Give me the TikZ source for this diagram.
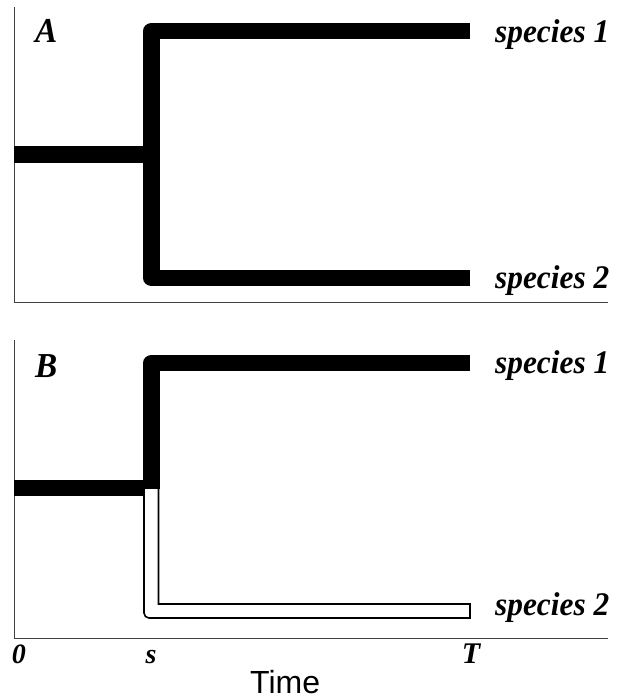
\documentclass[tikz,border=0pt]{standalone}
\usepackage{fontspec}
\usepackage{graphicx}
\setmainfont{Liberation Serif}
\newfontfamily\arialfont{Liberation Sans}
\newcommand{\spc}[1]{\scalebox{0.95}[1]{#1}}
\begin{document}
\begin{tikzpicture}[x=1pt,y=-1pt,
  axis/.style={line width=1pt,draw=black!75},
  branch/.style={line width=16.5pt,line join=round},
  lab/.style={font=\fontsize{33}{33}\selectfont\bfseries\itshape,inner sep=0pt,anchor=base west},
  panlab/.style={font=\fontsize{35}{35}\selectfont\bfseries\itshape,inner sep=0pt,anchor=base west},
  tick/.style={font=\fontsize{28}{28}\selectfont\bfseries\itshape,inner sep=0pt,anchor=base},
  openbr/.style={fill=white,draw=black,line width=1.6pt}]
\useasboundingbox (0,0) rectangle (623,700);
% panel A
\coordinate (a0) at (14,7);
\coordinate (ao) at (14,302);
\coordinate (ae) at (608,302);
\draw[axis] (a0) -- (ao) -- (ae);
\coordinate (ar) at (14,154.5);
\coordinate (as) at (152,154.5);
\coordinate (a1) at (470,31);
\coordinate (a2) at (470,278);
\draw[branch] (ar) -- (as);
\draw[branch] (a1) -- (151.5,31) -- (151.5,278) -- (a2);
\node[panlab] (la) at (35,43) {\spc{A}};
\node[lab] (la1) at (495,43) {\spc{species 1}};
\node[lab] (la2) at (495,288) {\spc{species 2}};
% panel B
\coordinate (b0) at (14,340);
\coordinate (bo) at (14,638);
\coordinate (be) at (608,638);
\draw[axis] (b0) -- (bo) -- (be);
\coordinate (br) at (14,488);
\coordinate (bs) at (152,488);
\coordinate (b1) at (470,363);
\draw[branch] (br) -- (bs);
\draw[branch] (b1) -- (151.5,363) -- (151.5,489);
\draw[openbr] (144,488) -- (144,612) [rounded corners=5pt] -- (144,618) [sharp corners] -- (470,618) -- (470,604) -- (158.5,604) -- (158.5,488) -- cycle;
\node[panlab] (lb) at (35,377) {\spc{B}};
\node[lab] (lb1) at (495,373) {\spc{species 1}};
\node[lab] (lb2) at (495,615) {\spc{species 2}};
% time axis labels
\node[tick] (t0) at (19,663) {0};
\node[tick] (ts) at (151,663) {s};
\node[tick,font=\fontsize{30}{30}\selectfont\bfseries\itshape] (tT) at (471,663) {T};
\node[font=\arialfont\fontsize{32}{32}\selectfont,inner sep=0pt,anchor=base west] (time) at (250,693) {Time};
\end{tikzpicture}
\end{document}
